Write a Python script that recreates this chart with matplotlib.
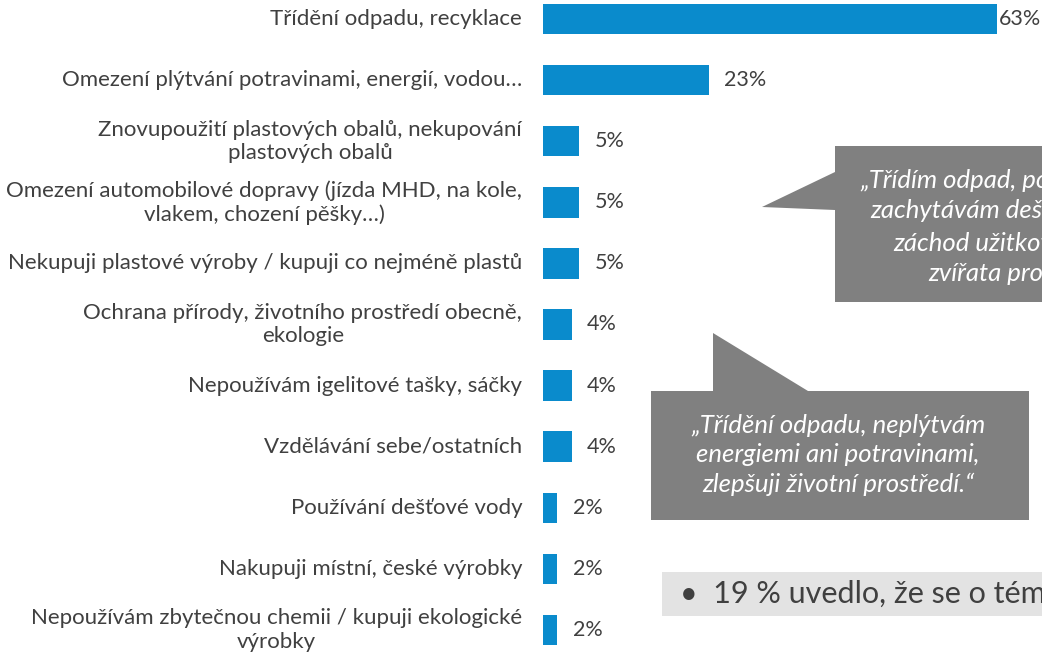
import matplotlib
matplotlib.use('Agg')
import matplotlib.pyplot as plt
from matplotlib.patches import Polygon, Rectangle

plt.rcParams['font.family'] = ['Lato', 'DejaVu Sans']

categories = [
    'Třídění odpadu, recyklace',
    'Omezení plýtvání potravinami, energií, vodou…',
    'Znovupoužití plastových obalů, nekupování\nplastových obalů',
    'Omezení automobilové dopravy (jízda MHD, na kole,\nvlakem, chození pěšky…)',
    'Nekupuji plastové výroby / kupuji co nejméně plastů',
    'Ochrana přírody, životního prostředí obecně,\nekologie',
    'Nepoužívám igelitové tašky, sáčky',
    'Vzdělávání sebe/ostatních',
    'Používání dešťové vody',
    'Nakupuji místní, české výrobky',
    'Nepoužívám zbytečnou chemii / kupuji ekologické\nvýrobky',
]
values = [63, 23, 5, 5, 5, 4, 4, 4, 2, 2, 2]

quote_1 = ['„Třídím odpad, používám vlastní',
           'zachytávám dešťovou vodu na',
           'záchod užitkovou vodou,',
           'zvířata prospívají…“']
quote_2 = '„Třídění odpadu, neplýtvám\nenergiemi ani potravinami,\nzlepšuji životní prostředí.“'
note = '•  19 % uvedlo, že se o téma životního prostředí nezajímá'

W, H = 1042, 653
BLUE = '#0A8BCC'
TEXT = '#404040'
GREY = '#808080'


def fx(x):
    return x / W


def fy(y):
    return 1 - y / H


fig = plt.figure(figsize=(W / 100, H / 100), dpi=100)

# bar area: 0 % at x=543, 63 % at x=997
scale = (997 - 543) / 63
ax = fig.add_axes([fx(543), 0, 1 - fx(543), 1])
ypos = list(range(len(values)))
ax.barh(ypos, values, height=0.5, color=BLUE)
ax.set_xlim(0, (W - 543) / scale)
ax.set_ylim(10 + 23 / 61.1, -19 / 61.1)
ax.set_yticks(ypos, categories)
ax.tick_params(axis='y', length=0, pad=15, labelsize=16, labelcolor=TEXT)
for lbl in ax.get_yticklabels():
    lbl.set_multialignment('center')
    lbl.set_verticalalignment('center')
    lbl.set_linespacing(1.2)
ax.set_xticks([])
for s in ax.spines.values():
    s.set_visible(False)

for i, v in enumerate(values):
    off = 1.5 if v == max(values) else 11
    ax.annotate(f'{v}%', (v, i), xytext=(off, 0), textcoords='offset points',
                va='center', ha='left', fontsize=15.5, color=TEXT)

# callout 1 (tail pointing left)
pts = [(835, 146), (1100, 146), (1100, 302), (835, 302), (835, 210), (762, 207), (835, 172)]
fig.add_artist(Polygon([(fx(x), fy(y)) for x, y in pts], closed=True,
                       transform=fig.transFigure, facecolor=GREY, edgecolor='none'))
for line, x0, y0 in zip(quote_1, [860, 870, 893, 928], [180, 211, 243, 273]):
    fig.text(fx(x0), fy(y0), line, ha='left', va='center', color='white',
             fontsize=18.5, style='italic')

# callout 2 (tail pointing up)
pts = [(651, 391), (713, 391), (713, 333), (808, 391), (1029, 391), (1029, 520), (651, 520)]
fig.add_artist(Polygon([(fx(x), fy(y)) for x, y in pts], closed=True,
                       transform=fig.transFigure, facecolor=GREY, edgecolor='none'))
fig.text(fx(838), fy(455), quote_2, ha='center', va='center', color='white',
         fontsize=18.5, style='italic', linespacing=1.33)

# bottom note box
fig.add_artist(Rectangle((fx(662), fy(616)), 1, (616 - 572) / H,
                         transform=fig.transFigure, facecolor='#E3E3E3', edgecolor='none'))
fig.text(fx(680), fy(594), note, ha='left', va='center', color=TEXT, fontsize=22)

fig.savefig('out.png', dpi=100)
